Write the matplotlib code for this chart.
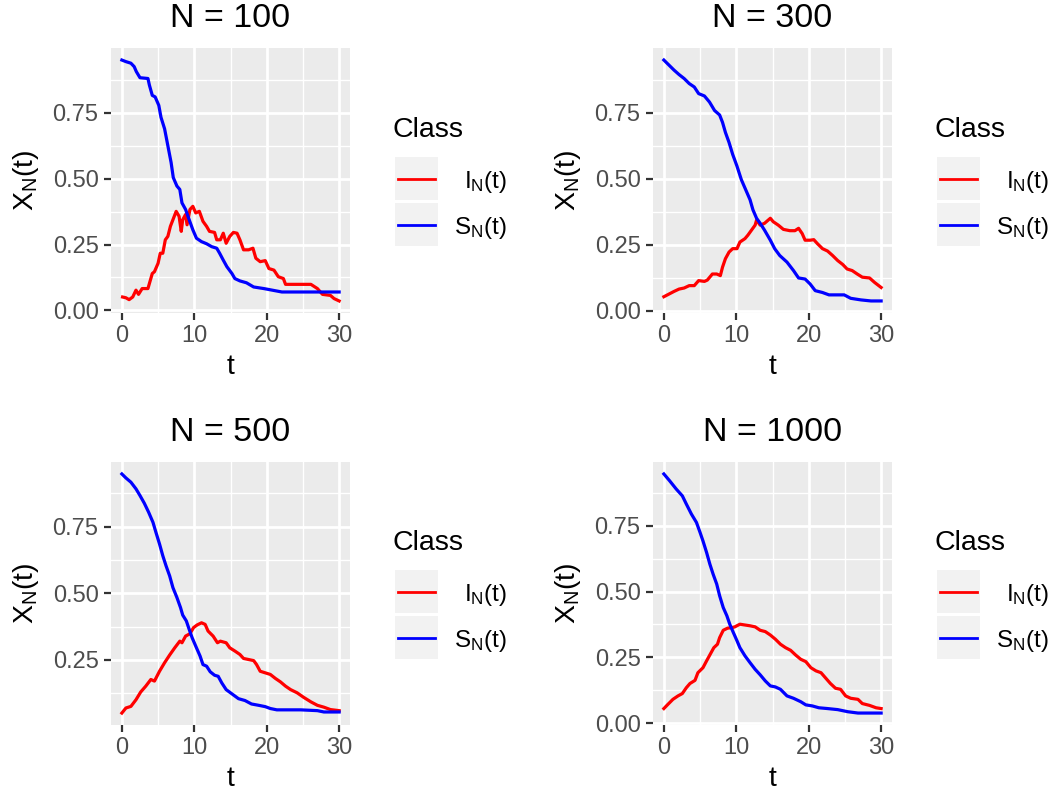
import numpy as np
import matplotlib.pyplot as plt
from matplotlib.patches import Rectangle
from matplotlib.lines import Line2D
from matplotlib.ticker import FormatStrFormatter

plt.rcParams['font.family'] = ['Liberation Sans', 'DejaVu Sans']
plt.rcParams['mathtext.default'] = 'regular'

# ---- data (t, proportion) ----
titles = ["N = 100", "N = 300", "N = 500", "N = 1000"]
class_labels = ["$I_N(t)$", "$S_N(t)$"]
class_colors = ["red", "blue"]

# N = 100
t100_i = [0.1, 0.56, 1.0, 1.5, 1.95, 2.3, 2.8, 3.6, 3.8, 4.2, 4.5, 5.0, 5.3, 5.65, 6.0, 6.35, 6.7,
          7.05, 7.5, 7.9, 8.2, 8.4, 8.8, 9.0, 9.4, 9.8, 10.2, 10.7, 11.2, 11.7, 12.1, 12.8, 13.1,
          13.6, 14.0, 14.4, 14.9, 15.4, 15.9, 16.3, 16.8, 17.5, 18.1, 18.5, 19.1, 19.8, 20.3,
          21.0, 21.6, 22.3, 22.6, 26.1, 27.0, 27.7, 28.8, 29.3, 30.0]
i100 = [0.051, 0.048, 0.041, 0.051, 0.077, 0.061, 0.083, 0.083, 0.102, 0.140, 0.147, 0.179,
        0.217, 0.217, 0.268, 0.281, 0.319, 0.344, 0.376, 0.357, 0.300, 0.344, 0.364, 0.325,
        0.383, 0.395, 0.370, 0.376, 0.338, 0.319, 0.300, 0.296, 0.268, 0.268, 0.293, 0.255,
        0.281, 0.296, 0.293, 0.268, 0.230, 0.230, 0.236, 0.198, 0.185, 0.189, 0.159, 0.153,
        0.128, 0.121, 0.099, 0.099, 0.083, 0.061, 0.057, 0.045, 0.036]
t100_s = [0.0, 0.56, 1.25, 1.7, 2.0, 2.5, 3.6, 3.8, 4.2, 4.6, 5.1, 5.4, 5.9, 6.35, 6.8, 7.1, 7.6,
          8.0, 8.3, 8.8, 9.3, 9.8, 10.3, 11.0, 11.7, 12.4, 13.1, 13.5, 14.0, 14.5, 15.2, 15.6,
          16.3, 17.2, 18.2, 19.6, 22.1, 30.0]
s100 = [0.950, 0.944, 0.938, 0.925, 0.906, 0.883, 0.880, 0.855, 0.816, 0.810, 0.778, 0.733,
        0.689, 0.625, 0.561, 0.504, 0.472, 0.459, 0.408, 0.383, 0.344, 0.306, 0.274, 0.261,
        0.253, 0.242, 0.236, 0.217, 0.191, 0.166, 0.140, 0.121, 0.112, 0.105, 0.089, 0.083,
        0.070, 0.070]

# N = 300
t300_i = [0.0, 0.7, 1.4, 2.1, 2.8, 3.5, 4.2, 4.8, 5.6, 6.0, 6.7, 7.3, 7.8, 8.1, 8.5, 9.0, 9.5,
          10.1, 10.5, 11.2, 11.6, 12.1, 12.6, 12.8, 13.3, 13.9, 14.7, 15.1, 15.8, 16.5, 17.4,
          18.1, 18.6, 19.1, 19.5, 20.2, 20.7, 21.2, 21.9, 22.6, 23.3, 24.0, 24.7, 25.3, 26.0,
          26.7, 27.4, 28.4, 29.1, 30.0]
i300 = [0.054, 0.064, 0.074, 0.083, 0.087, 0.096, 0.096, 0.115, 0.112, 0.117, 0.140, 0.140,
        0.134, 0.166, 0.198, 0.223, 0.236, 0.236, 0.261, 0.274, 0.287, 0.306, 0.325, 0.344,
        0.325, 0.332, 0.351, 0.338, 0.325, 0.309, 0.304, 0.304, 0.313, 0.293, 0.268, 0.268,
        0.270, 0.255, 0.236, 0.227, 0.210, 0.191, 0.176, 0.159, 0.153, 0.140, 0.128, 0.125,
        0.108, 0.089]
t300_s = [0.0, 0.7, 1.4, 2.1, 2.8, 3.5, 4.2, 4.8, 5.6, 6.3, 7.0, 7.7, 8.1, 8.5, 9.0, 9.5, 10.1,
          10.7, 11.3, 11.9, 12.3, 12.8, 13.3, 13.9, 14.7, 15.3, 16.0, 17.0, 17.9, 18.6, 19.5,
          20.2, 20.9, 21.9, 22.8, 24.9, 25.8, 27.2, 28.6, 30.0]
s300 = [0.950, 0.931, 0.912, 0.895, 0.880, 0.861, 0.848, 0.823, 0.814, 0.791, 0.759, 0.742,
        0.714, 0.676, 0.638, 0.593, 0.548, 0.497, 0.459, 0.421, 0.383, 0.351, 0.332, 0.306,
        0.268, 0.236, 0.210, 0.185, 0.153, 0.125, 0.121, 0.102, 0.077, 0.070, 0.061, 0.061,
        0.048, 0.042, 0.038, 0.038]

# N = 500
t500_i = [0.0, 0.56, 1.25, 1.95, 2.6, 3.3, 4.0, 4.5, 5.2, 5.9, 6.6, 7.3, 8.0, 8.3, 8.8, 9.4,
          9.9, 10.4, 11.0, 11.5, 11.9, 12.6, 13.2, 13.6, 14.4, 14.9, 15.6, 16.3, 16.8, 17.5,
          18.2, 18.6, 19.1, 19.8, 20.5, 21.2, 21.9, 22.6, 23.3, 24.2, 25.1, 26.1, 27.0, 27.9,
          28.8, 30.0]
i500 = [0.050, 0.069, 0.075, 0.100, 0.129, 0.151, 0.176, 0.170, 0.207, 0.239, 0.268, 0.295,
        0.320, 0.314, 0.339, 0.348, 0.371, 0.381, 0.389, 0.383, 0.358, 0.339, 0.314, 0.320,
        0.314, 0.295, 0.283, 0.270, 0.255, 0.251, 0.247, 0.232, 0.207, 0.201, 0.195, 0.180,
        0.167, 0.151, 0.138, 0.126, 0.109, 0.092, 0.079, 0.072, 0.063, 0.059]
t500_s = [0.0, 0.56, 1.25, 1.95, 2.5, 3.1, 3.7, 4.3, 4.7, 5.2, 5.65, 6.1, 6.6, 7.05, 7.6, 8.1,
          8.4, 8.9, 9.3, 9.7, 10.3, 10.8, 11.2, 11.7, 12.2, 12.8, 13.3, 13.8, 14.4, 15.2, 16.1,
          17.0, 17.9, 18.9, 19.8, 20.5, 21.4, 24.7, 27.0, 27.9, 30.0]
s500 = [0.948, 0.933, 0.917, 0.892, 0.867, 0.838, 0.804, 0.766, 0.729, 0.685, 0.641, 0.603,
        0.565, 0.521, 0.484, 0.446, 0.418, 0.396, 0.364, 0.333, 0.295, 0.264, 0.232, 0.226,
        0.205, 0.192, 0.188, 0.163, 0.138, 0.122, 0.104, 0.097, 0.084, 0.079, 0.074, 0.067,
        0.062, 0.062, 0.059, 0.054, 0.054]

# N = 1000
t1000_i = [0.0, 0.56, 1.25, 1.95, 2.55, 3.1, 3.6, 4.3, 4.7, 5.4, 5.9, 6.4, 6.9, 7.4, 7.7, 8.2,
           8.8, 9.4, 9.8, 10.5, 11.2, 11.9, 12.6, 13.3, 14.0, 14.7, 15.4, 16.1, 16.8, 17.5,
           18.2, 18.9, 19.6, 20.3, 21.0, 21.7, 22.3, 23.0, 23.7, 24.4, 25.1, 25.8, 26.8, 27.4,
           28.4, 29.3, 30.0]
i1000 = [0.056, 0.072, 0.091, 0.104, 0.113, 0.135, 0.151, 0.163, 0.192, 0.211, 0.237, 0.262,
         0.287, 0.300, 0.325, 0.353, 0.361, 0.363, 0.366, 0.376, 0.373, 0.370, 0.366, 0.353,
         0.348, 0.335, 0.319, 0.300, 0.287, 0.277, 0.259, 0.243, 0.234, 0.211, 0.199, 0.192,
         0.173, 0.151, 0.133, 0.129, 0.104, 0.095, 0.091, 0.075, 0.068, 0.059, 0.056]
t1000_s = [0.0, 0.8, 1.7, 2.55, 3.1, 3.8, 4.5, 5.0, 5.4, 5.9, 6.35, 6.8, 7.3, 7.7, 8.2, 8.7,
           9.1, 9.6, 10.1, 10.5, 11.2, 11.9, 12.6, 13.3, 14.0, 14.7, 15.4, 16.1, 17.0, 17.9,
           18.9, 19.6, 20.5, 21.4, 22.6, 24.0, 25.4, 26.8, 30.0]
s1000 = [0.946, 0.920, 0.889, 0.863, 0.832, 0.794, 0.762, 0.724, 0.692, 0.648, 0.604, 0.566,
         0.528, 0.484, 0.439, 0.408, 0.376, 0.344, 0.313, 0.287, 0.256, 0.230, 0.205, 0.184,
         0.161, 0.142, 0.138, 0.129, 0.104, 0.095, 0.082, 0.070, 0.066, 0.059, 0.056, 0.052,
         0.044, 0.039, 0.039]

series = [
    [(t100_i, i100), (t100_s, s100)],
    [(t300_i, i300), (t300_s, s300)],
    [(t500_i, i500), (t500_s, s500)],
    [(t1000_i, i1000), (t1000_s, s1000)],
]

# ---- layout (pixels: left, top, right, bottom) ----
W, H = 1055, 794
boxes = [(111, 48, 350, 313), (653, 48, 892, 313),
         (111, 462, 350, 725), (653, 462, 892, 725)]


def fx(x):
    return x / W


def fy(y):
    return 1 - y / H


def draw_legend(fig, box):
    l, t, r, b = box
    cy = (t + b) / 2
    fig.text(fx(r + 43), fy(cy - 43.5), "Class", fontsize=20.5, va='baseline', ha='left')
    key_tops = [cy - 23.5, cy + 22.5]
    for k in range(2):
        y0 = key_tops[k]
        fig.patches.append(Rectangle((fx(r + 45), fy(y0 + 43)), 43 / W, 43 / H,
                                     transform=fig.transFigure, facecolor='#F2F2F2',
                                     edgecolor='none'))
        yc = y0 + 21.5
        fig.lines.append(Line2D([fx(r + 48), fx(r + 85)], [fy(yc), fy(yc)],
                                transform=fig.transFigure, color=class_colors[k], lw=2.0))
        fig.text(fx(r + 157), fy(yc), class_labels[k], fontsize=17.5,
                 ha='right', va='center_baseline')


fig = plt.figure(figsize=(W / 100, H / 100), dpi=100)

for p in range(4):
    l, t, r, b = boxes[p]
    ax = fig.add_axes([fx(l), fy(b), (r - l) / W, (b - t) / H])
    ax.set_facecolor('#EBEBEB')
    for sp in ax.spines.values():
        sp.set_visible(False)

    allv = []
    for k, (tt, vv) in enumerate(series[p]):
        ax.plot(tt, vv, color=class_colors[k], lw=2.3, solid_joinstyle='round')
        allv += vv
    lo, hi = min(allv), max(allv)
    pad = 0.05 * (hi - lo)
    ax.set_ylim(lo - pad, hi + pad)
    ax.set_xlim(-1.5, 31.5)

    ax.set_xticks([0, 10, 20, 30])
    ax.set_xticks([5, 15, 25], minor=True)
    yt = [v for v in [0, 0.25, 0.5, 0.75] if lo - pad <= v <= hi + pad]
    ax.set_yticks(yt)
    ax.set_yticks([0.125, 0.375, 0.625, 0.875], minor=True)
    ax.yaxis.set_major_formatter(FormatStrFormatter('%.2f'))
    ax.set_axisbelow(True)
    ax.grid(which='major', color='white', lw=2.0)
    ax.grid(which='minor', color='white', lw=1.0)
    ax.tick_params(which='major', length=5, width=1.6, color='#333333',
                   labelcolor='#4D4D4D', labelsize=17, pad=4)
    ax.tick_params(which='minor', length=0)

    ax.set_title(titles[p], fontsize=24.5, pad=15)
    ax.set_xlabel("t", fontsize=20.5, labelpad=5)
    ax.set_ylabel("$X_N(t)$", fontsize=20.5, labelpad=8)

    draw_legend(fig, boxes[p])

fig.savefig("out.png", dpi=100, facecolor='white')
